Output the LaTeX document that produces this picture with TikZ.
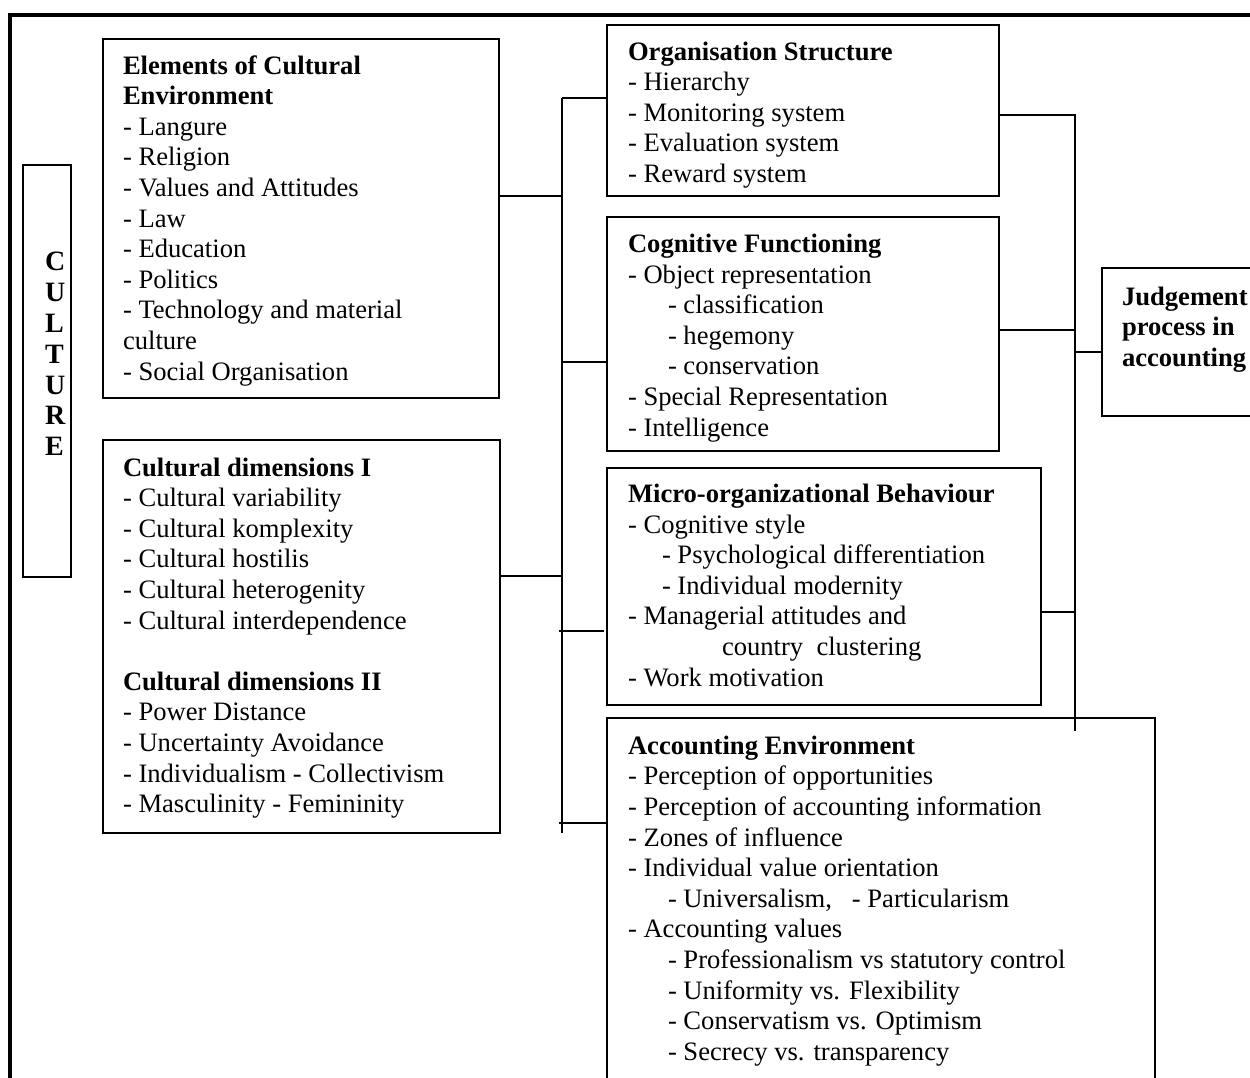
\documentclass[tikz,border=0pt]{standalone}
\usepackage{fontspec}
\setmainfont{Liberation Serif}
\usetikzlibrary{calc}
\newcommand{\bodyfont}{\fontsize{26.6pt}{30.6pt}\selectfont}
\newcommand{\cultfont}{\fontsize{28pt}{30.8pt}\selectfont\bfseries}
\begin{document}
\begin{tikzpicture}[x=1pt,y=-1pt,
  frameline/.style={line width=3.5pt, line join=miter},
  boxnode/.style={draw, line width=1.8pt, anchor=north west, inner sep=0pt, outer sep=0pt},
  txt/.style={anchor=north west, inner sep=0pt, outer sep=0pt, align=left, font=\bodyfont},
  link/.style={line width=1.6pt}]
\useasboundingbox (0,0) rectangle (1250,1077);
\fill[white] (0,0) rectangle (1250,1077);
\clip (0,0) rectangle (1250,1077);
\draw[frameline] (10,1090) -- (10,15) -- (1262,15);

% boxes
\node[boxnode, minimum width=48pt,  minimum height=412pt] (cult)  at (23,165) {};
\node[boxnode, minimum width=396pt, minimum height=359pt] (elem)  at (103,39) {};
\node[boxnode, minimum width=397pt, minimum height=393pt] (dims)  at (103,440) {};
\node[boxnode, minimum width=392pt, minimum height=171pt] (org)   at (607,25) {};
\node[boxnode, minimum width=392pt, minimum height=234pt] (cog)   at (607,217) {};
\node[boxnode, minimum width=434pt, minimum height=237pt] (micro) at (607,468) {};
\node[boxnode, minimum width=548pt, minimum height=380pt] (acct)  at (607,718) {};
\node[boxnode, minimum width=170pt, minimum height=148pt] (judge) at (1102,268) {};

% texts
\node[anchor=north west, inner sep=0pt, align=left, font=\cultfont] (cultT) at (45,249.1)
  {\strut C\\U\\L\\T\\U\\R\\E};

\node[txt] (elemT) at (123,52.6) {\strut\textbf{Elements of Cultural}\\\textbf{Environment}\\- Langure\\- Religion\\- Values and Attitudes\\- Law\\- Education\\- Politics\\- Technology and material\\culture\\- Social Organisation};

\node[txt] (dimsT) at (123,454.6) {\strut\textbf{Cultural dimensions I}\\- Cultural variability\\- Cultural komplexity\\- Cultural hostilis\\- Cultural heterogenity\\- Cultural interdependence\\[30.6pt]\textbf{Cultural dimensions II}\\- Power Distance\\- Uncertainty Avoidance\\- Individualism - Collectivism\\- Masculinity - Femininity};

\node[txt] (orgT) at (628,38.6) {\strut\textbf{Organisation Structure}\\- Hierarchy\\- Monitoring system\\- Evaluation system\\- Reward system};

\node[txt] (cogT) at (628,231) {\strut\textbf{Cognitive Functioning}\\- Object representation\\\hspace*{40pt}- classification\\\hspace*{40pt}- hegemony\\\hspace*{40pt}- conservation\\- Special Representation\\- Intelligence};

\node[txt] (microT) at (628,481.1) {\strut\textbf{Micro-organizational Behaviour}\\- Cognitive style\\\hspace*{34pt}- Psychological differentiation\\\hspace*{34pt}- Individual modernity\\- Managerial attitudes and\\\hspace*{94pt}country~ clustering\\- Work motivation};

\node[txt] (acctT) at (628,732.9) {\strut\textbf{Accounting Environment}\\- Perception of opportunities\\- Perception of accounting information\\- Zones of influence\\- Individual value orientation\\\hspace*{40pt}- Universalism,~~ - Particularism\\- Accounting values\\\hspace*{40pt}- Professionalism vs statutory control\\\hspace*{40pt}- Uniformity vs. Flexibility\\\hspace*{40pt}- Conservatism vs. Optimism\\\hspace*{40pt}- Secrecy vs. transparency};

\node[txt] (judgeT) at (1122,283.6) {\strut\textbf{Judgement}\\\textbf{process in}\\\textbf{accounting}};

% left bus
\coordinate (bLtop) at (562,98);
\coordinate (bLbot) at (562,833);
\coordinate (jE) at (562,196);
\coordinate (jC) at (562,362);
\coordinate (jD) at (562,576);
\coordinate (jM) at (559,631);
\coordinate (jA) at (559,823);
\draw[link] (bLtop) -- (bLbot);
\draw[link] (bLtop) -- (org.west |- bLtop);
\draw[link] (elem.east |- jE) -- (jE);
\draw[link] (jC) -- (cog.west |- jC);
\draw[link] (dims.east |- jD) -- (jD);
\draw[link] (jM) -- ($(micro.west |- jM)+(-3,0)$);
\draw[link] (jA) -- (acct.west |- jA);

% right bus
\coordinate (bRtop) at (1075,115);
\coordinate (bRbot) at (1075,731);
\coordinate (jC2) at (1075,330);
\coordinate (jJ) at (1075,352);
\coordinate (jM2) at (1075,612);
\draw[link] (org.east |- bRtop) -- (bRtop) -- (bRbot);
\draw[link] (cog.east |- jC2) -- (jC2);
\draw[link] (jJ) -- (judge.west |- jJ);
\draw[link] (micro.east |- jM2) -- (jM2);
\end{tikzpicture}
\end{document}
